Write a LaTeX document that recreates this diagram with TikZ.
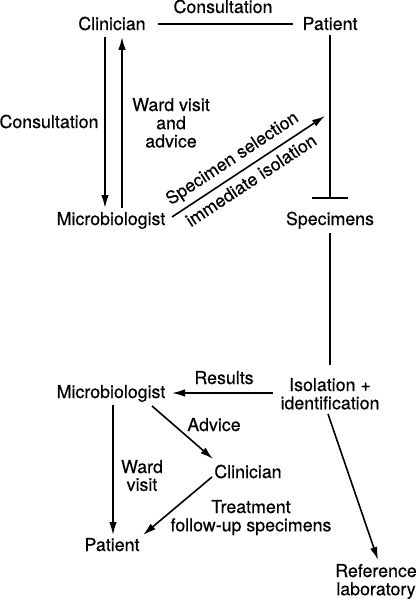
\documentclass[tikz,border=0pt]{standalone}
\usepackage{fontspec}
\setmainfont[FakeBold=0.4]{TeX Gyre Heros}
\usetikzlibrary{arrows.meta,calc}
\newcommand{\mlines}[1]{\begin{tabular}[t]{@{}c@{}}#1\end{tabular}}
\begin{document}
\begin{tikzpicture}[x=1pt,y=-1pt,
  lbl/.style={inner sep=0pt, anchor=base, font=\fontsize{17.8}{17.5}\selectfont},
  conn/.style={line width=1.6pt},
  arr/.style={conn,-{Latex[length=13pt,width=7.5pt]}}]
\useasboundingbox (0,0) rectangle (417,599);
\node[lbl] (cli1) at (112,30) {Clinician};
\node[lbl] (pat1) at (330,30) {Patient};
\node[lbl] (cons1) at (223,13) {Consultation};
\node[lbl] (cons2) at (49,128) {Consultation};
\node[lbl] (ward1) at (171,111) {\mlines{Ward visit\\and\\advice}};
\node[lbl] (mic1) at (111,225) {Microbiologist};
\node[lbl] (spec) at (330,225) {Specimens};
\node[lbl] (iso) at (330,391) {\mlines{Isolation +\\identification}};
\node[lbl] (res) at (224,384) {Results};
\node[lbl] (mic2) at (111,398) {Microbiologist};
\node[lbl] (adv) at (214,431) {Advice};
\node[lbl] (cli2) at (248,478) {Clinician};
\node[lbl] (ward2) at (142,473) {\mlines{Ward\\visit}};
\node[lbl] (treat) at (251,513) {\mlines{Treatment\\follow-up specimens}};
\node[lbl] (pat2) at (112,551) {Patient};
\node[lbl] (ref) at (376,577) {\mlines{Reference\\laboratory}};
% connectors
\draw[conn] ($(cli1.base)+(46,-6)$) -- ($(pat1.base)+(-37,-6)$);
\draw[arr] ($(cli1.base)+(-7,7)$) -- ($(mic1.base)+(-6,-17)$);
\draw[arr] ($(mic1.base)+(11,-17)$) -- ($(cli1.base)+(10,7)$);
\draw[arr] ($(mic1.base)+(61,-8)$) -- ($(pat1.base)+(-5,86)$)
  node[lbl, sloped, pos=0.45, above=5.6pt] (sel) {Specimen selection}
  node[lbl, sloped, pos=0.47, below=5.3pt] (imm) {immediate isolation};
\draw[conn,-{Bar[width=36pt,line width=1.6pt]}] ($(pat1.base)+(0,5)$) -- ($(spec.base)+(0,-26)$);
\draw[conn] ($(spec.base)+(0,8)$) -- ($(iso.base)+(0,-26)$);
\draw[arr] ($(iso.base)+(-57,2)$) -- ($(mic2.base)+(61,-5)$);
\draw[arr] ($(mic2.base)+(2,7)$) -- ($(pat2.base)+(1,-16)$);
\draw[arr] ($(mic2.base)+(41,8)$) -- ($(cli2.base)+(-35,-19)$);
\draw[arr] ($(cli2.base)+(-36,-1)$) -- ($(pat2.base)+(31,-16)$);
\draw[arr] ($(iso.base)+(-2,23)$) -- ($(ref.base)+(2,-17)$);
\end{tikzpicture}
\end{document}
